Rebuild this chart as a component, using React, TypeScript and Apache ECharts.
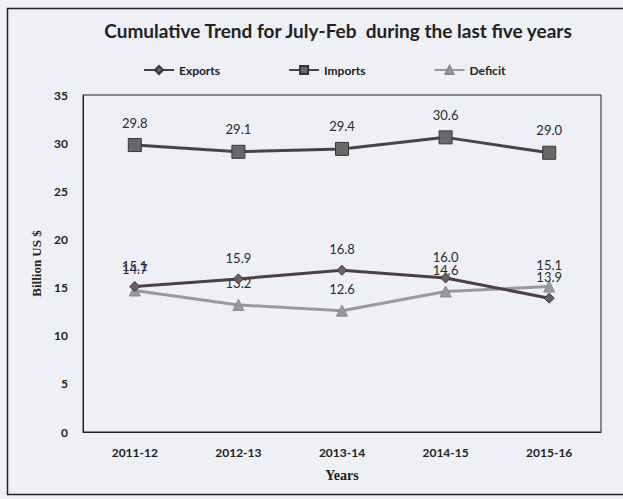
import React, { useEffect, useRef } from "react";
import * as echarts from "echarts";

const categories = ["2011-12", "2012-13", "2013-14", "2014-15", "2015-16"];
const exportsData = [15.1, 15.9, 16.8, 16.0, 13.9];
const importsData = [29.8, 29.1, 29.4, 30.6, 29.0];
const deficitData = [14.7, 13.2, 12.6, 14.6, 15.1];

export default function App() {
  const ref = useRef<HTMLDivElement>(null);
  useEffect(() => {
    if (!ref.current) return;
    const chart = echarts.init(ref.current, null, { renderer: "svg" });
    const lbl = {
      show: true,
      position: "top" as const,
      distance: 9,
      fontFamily: "Lato",
      fontSize: 13,
      color: "#2a2a2a",
      formatter: (p: any) => Number(p.value).toFixed(1),
    };
    chart.setOption({
      animation: false,
      backgroundColor: "#eef0f5",
      title: {
        text: "Cumulative Trend for July-Feb  during the last five years",
        left: 333,
        top: 16,
        textAlign: "center",
        textStyle: { fontFamily: "Lato", fontWeight: "bold", fontSize: 19, color: "#222" },
      },
      legend: {
        top: 59,
        left: 138,
        itemGap: 68,
        itemWidth: 30,
        itemHeight: 10,
        textStyle: { fontFamily: "Lato", fontWeight: "bold", fontSize: 12, color: "#222" },
        data: ["Exports", "Imports", "Deficit"],
      },
      grid: { left: 83, right: 22, top: 95, bottom: 67, show: true, borderColor: "#222", borderWidth: 1, backgroundColor: "transparent" },
      xAxis: {
        type: "category",
        data: categories,
        boundaryGap: true,
        name: "Years",
        nameLocation: "middle",
        nameGap: 36,
        nameTextStyle: { fontFamily: "Liberation Serif", fontWeight: "bold", fontSize: 14, color: "#222" },
        axisLine: { show: true, lineStyle: { color: "#222" } },
        axisTick: { show: false },
        axisLabel: { fontFamily: "Lato", fontWeight: "bold", fontSize: 12, color: "#222", margin: 14 },
      },
      yAxis: {
        type: "value",
        min: 0,
        max: 35,
        interval: 5,
        name: "Billion US $",
        nameLocation: "middle",
        nameGap: 40,
        nameTextStyle: { fontFamily: "Liberation Serif", fontWeight: "bold", fontSize: 13, color: "#222" },
        axisLine: { show: true, lineStyle: { color: "#222" } },
        axisTick: { show: false },
        splitLine: { show: false },
        axisLabel: { fontFamily: "Lato", fontWeight: "bold", fontSize: 12, color: "#222", margin: 15 },
      },
      graphic: [
        {
          type: "rect",
          shape: { x: 7.5, y: 8.5, width: 640, height: 486 },
          style: { fill: "none", stroke: "#222", lineWidth: 1.5 },
          silent: true,
        },
      ],
      series: [
        {
          name: "Exports",
          type: "line",
          data: exportsData,
          symbol: "diamond",
          symbolSize: 10,
          lineStyle: { color: "#4f3f44", width: 3 },
          itemStyle: { color: "#6a5f63", borderColor: "#3f3438", borderWidth: 1 },
          label: lbl,
          z: 3,
        },
        {
          name: "Imports",
          type: "line",
          data: importsData,
          symbol: "rect",
          symbolSize: 13,
          lineStyle: { color: "#4a4446", width: 3 },
          itemStyle: { color: "#6b6668", borderColor: "#3a3436", borderWidth: 1 },
          label: lbl,
          z: 2,
        },
        {
          name: "Deficit",
          type: "line",
          data: deficitData,
          symbol: "triangle",
          symbolSize: 11,
          lineStyle: { color: "#9a9a9c", width: 3 },
          itemStyle: { color: "#9a9a9c", borderColor: "#8a8a8c", borderWidth: 1 },
          label: lbl,
          z: 1,
        },
      ],
    });
    return () => chart.dispose();
  }, []);
  return (
    <div
      ref={ref}
      style={{ position: "fixed", left: 0, top: 0, width: 623, height: 499 }}
    />
  );
}
